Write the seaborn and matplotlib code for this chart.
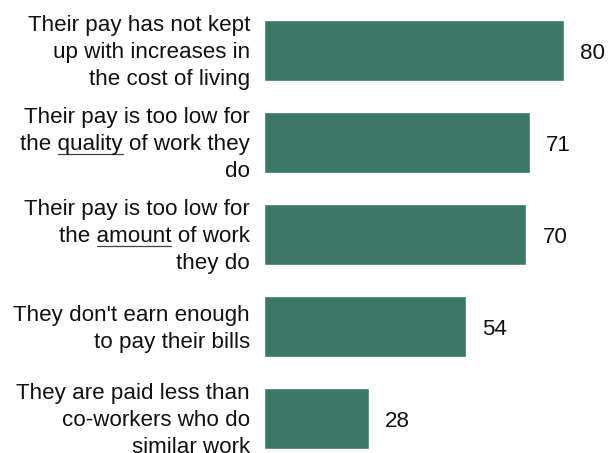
import matplotlib
matplotlib.use("Agg")
import matplotlib.pyplot as plt
from matplotlib.lines import Line2D
from matplotlib.transforms import blended_transform_factory, offset_copy
import pandas as pd
import seaborn as sns

# Reasons (wrapped as displayed) and share of respondents
label_lines = [
    ["Their pay has not kept", "up with increases in", "the cost of living"],
    ["Their pay is too low for", "the quality of work they", "do"],
    ["Their pay is too low for", "the amount of work", "they do"],
    ["They don't earn enough", "to pay their bills"],
    ["They are paid less than", "co-workers who do", "similar work"],
]
underlined_words = [None, "quality", "amount", None, None]
values = [80, 71, 70, 54, 28]
reasons = [" ".join(lines) for lines in label_lines]

GREEN = "#3b7866"
TEXT = "#111111"
FONT = ["Liberation Sans", "DejaVu Sans"]
FS = 16.1

W, H, DPI = 616, 453, 100
sns.set_theme(style="white")
plt.rcParams["font.family"] = FONT

df = pd.DataFrame({"reason": reasons, "value": values})

fig = plt.figure(figsize=(W / DPI, H / DPI), dpi=DPI)
ax = fig.add_axes([264 / W, 0, 1 - 264 / W, 1])
sns.barplot(data=df, x="value", y="reason", orient="h", color=GREEN,
            saturation=1, width=0.66, ax=ax)
ax.set_xlim(0, 93.9)
ax.set_ylim(4.375, -0.549)
ax.set_axis_off()

# value labels to the right of each bar
val_tr = offset_copy(ax.transData, fig=fig, x=16, y=-8.5, units="dots")
for i, v in enumerate(values):
    ax.text(v, i, f"{v}", transform=val_tr, ha="left", va="baseline",
            fontsize=FS, color=TEXT)

# category labels, right-aligned, one text per line
label_tr = blended_transform_factory(fig.transFigure, ax.transData)
LINE = 27.0
line_texts = []
for i, lines in enumerate(label_lines):
    n = len(lines)
    for j, line in enumerate(lines):
        dy = 7.5 + (j - (n - 1) / 2) * LINE
        tr = offset_copy(label_tr, fig=fig, x=0, y=-dy, units="dots")
        t = fig.text(250 / W, i, line, transform=tr, ha="right", va="baseline",
                     fontsize=FS, color=TEXT)
        line_texts.append((i, line, t))

# underline emphasized words
fig.canvas.draw()
renderer = fig.canvas.get_renderer()


def text_width(s):
    tmp = fig.text(0, 0, s, fontsize=FS)
    w = tmp.get_window_extent(renderer).width
    tmp.remove()
    return w


for i, line, t in line_texts:
    word = underlined_words[i]
    if word and word in line:
        bb = t.get_window_extent(renderer)
        prefix = line[: line.index(word) + len(word)]
        x1 = bb.x0 + text_width(prefix)
        x0 = x1 - text_width(word)
        # baseline position in display coordinates
        base_y = t.get_transform().transform((t.get_position()))[1]
        yy = base_y - 3.5
        fig.add_artist(Line2D([x0 / W, x1 / W], [yy / H, yy / H],
                              transform=fig.transFigure, color="#444444",
                              linewidth=0.9))

fig.savefig("out.png", dpi=DPI)
